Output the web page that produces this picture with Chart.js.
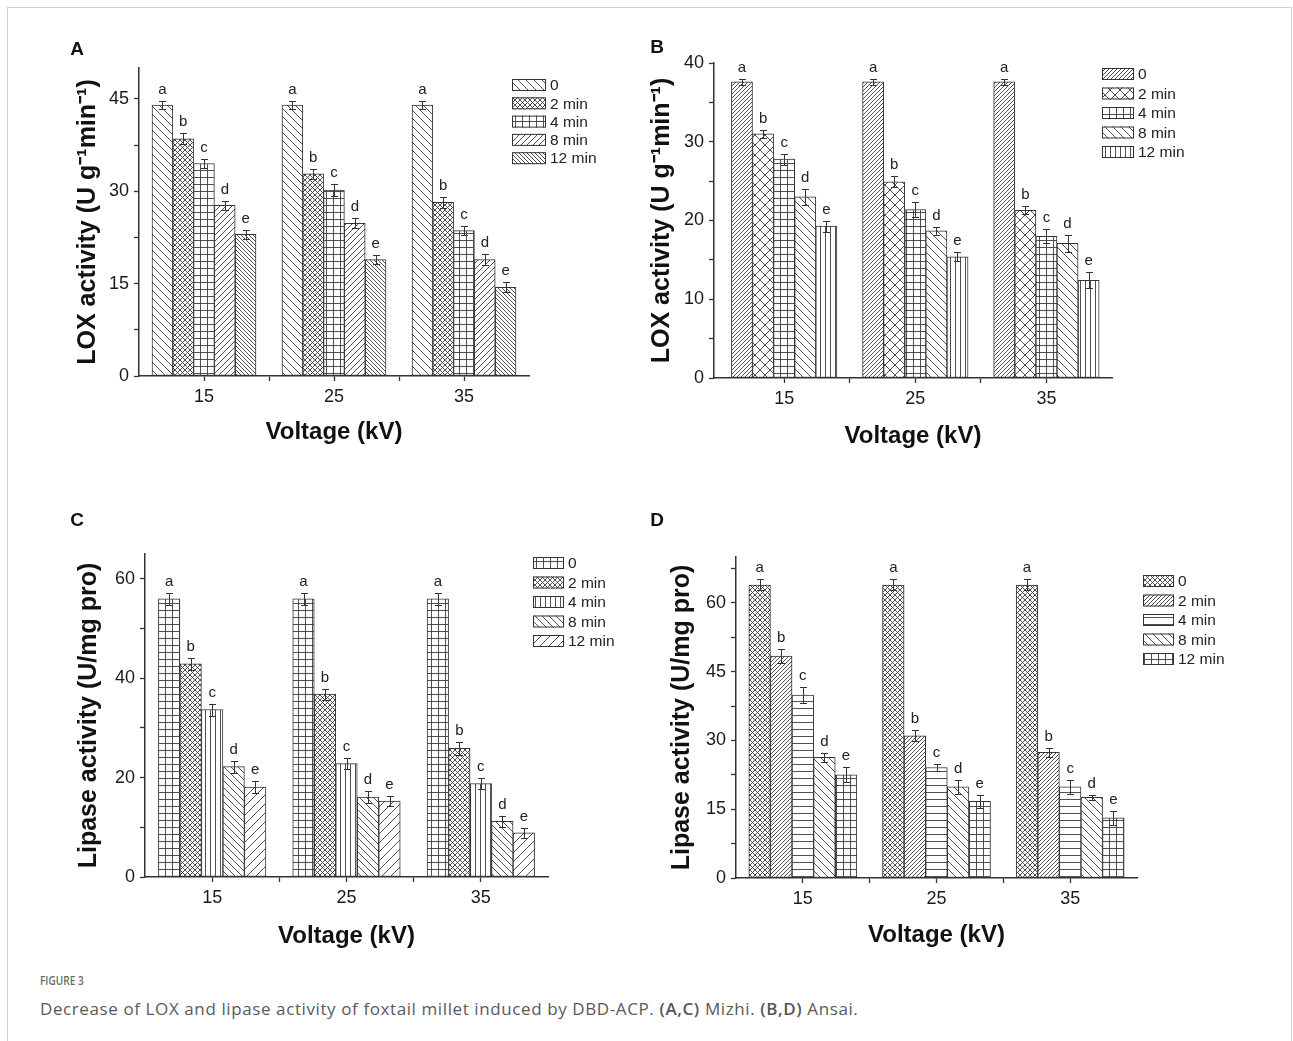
<!DOCTYPE html>
<html>
<head>
<meta charset="utf-8">
<script src="https://cdn.jsdelivr.net/npm/chart.js@4.4.0/dist/chart.umd.min.js"></script>
<style>
  body { margin: 0; background: #fff; width: 1293px; height: 1041px; overflow: hidden; position: relative; }
  .frame { position: absolute; left: 7px; top: 7px; width: 1283px; height: 1100px; border: 1.5px solid #cfcfcf; border-bottom: none; }
  canvas { position: absolute; }
  .figno { position: absolute; left: 40px; top: 972px; font: 600 12px "Open Sans", sans-serif; color: #6a6a6a; transform: scaleX(0.84); transform-origin: left center; }
  .caption { position: absolute; left: 40px; top: 997px; font: 17px "Open Sans", sans-serif; color: #5a5a5a; letter-spacing: 0.6px; }
  .caption b { font-weight: 600; color: #555; }
</style>
</head>
<body>
<div class="frame"></div>
<canvas id="chartA" width="570" height="420" style="left:60px;top:30px"></canvas>
<canvas id="chartB" width="580" height="425" style="left:640px;top:30px"></canvas>
<canvas id="chartC" width="580" height="450" style="left:60px;top:505px"></canvas>
<canvas id="chartD" width="605" height="450" style="left:640px;top:505px"></canvas>
<div class="figno">FIGURE 3</div>
<div class="caption">Decrease of LOX and lipase activity of foxtail millet induced by DBD-ACP. <b>(A,C)</b> Mizhi. <b>(B,D)</b> Ansai.</div>
<script>
// categories
const voltages = [15, 25, 35];
const times = ['0', '2 min', '4 min', '8 min', '12 min'];
const letters = ['a', 'b', 'c', 'd', 'e'];

// A: LOX activity, Mizhi (one row per treatment time, values at 15/25/35 kV)
const loxMizhiMean = [
  [44.0, 44.0, 44.0],
  [38.5, 32.8, 28.2],
  [34.5, 30.2, 23.6],
  [27.7, 24.8, 18.9],
  [23.0, 18.9, 14.4]
];
const loxMizhiErr = [
  [0.6, 0.6, 0.6],
  [0.9, 0.8, 0.9],
  [0.7, 0.9, 0.7],
  [0.7, 0.8, 0.9],
  [0.7, 0.7, 0.8]
];

// B: LOX activity, Ansai
const loxAnsaiMean = [
  [37.6, 37.6, 37.6],
  [31.0, 24.9, 21.3],
  [27.8, 21.4, 18.0],
  [23.0, 18.7, 17.1],
  [19.3, 15.4, 12.4]
];
const loxAnsaiErr = [
  [0.4, 0.4, 0.4],
  [0.5, 0.7, 0.5],
  [0.7, 1.0, 0.9],
  [1.0, 0.5, 1.1],
  [0.7, 0.6, 1.0]
];

// C: Lipase activity, Mizhi
const lipMizhiMean = [
  [56.0, 56.0, 56.0],
  [42.9, 36.8, 25.9],
  [33.7, 22.8, 18.8],
  [22.2, 16.1, 11.2],
  [18.1, 15.3, 8.9]
];
const lipMizhiErr = [
  [1.2, 1.2, 1.2],
  [1.2, 1.1, 1.3],
  [1.2, 1.1, 1.1],
  [1.2, 1.2, 1.1],
  [1.2, 1.1, 1.0]
];

// D: Lipase activity, Ansai
const lipAnsaiMean = [
  [63.9, 63.9, 63.9],
  [48.4, 31.0, 27.4],
  [39.9, 24.1, 19.9],
  [26.3, 19.9, 17.6],
  [22.5, 16.7, 13.1]
];
const lipAnsaiErr = [
  [1.2, 1.2, 1.2],
  [1.6, 1.2, 1.0],
  [1.8, 0.8, 1.5],
  [0.9, 1.5, 0.6],
  [1.6, 1.4, 1.6]
];

const FONT = '"Liberation Sans", Arial, sans-serif';
const INK = '#333';

// hatch fill made on a small tile canvas
function hatch(kind, s) {
  const c = document.createElement('canvas');
  c.width = s; c.height = s;
  const g = c.getContext('2d');
  g.fillStyle = '#fff';
  g.fillRect(0, 0, s, s);
  g.strokeStyle = '#3c3c3c';
  g.lineWidth = 0.9;
  g.beginPath();
  if (kind === 'fdiag' || kind === 'cross') {
    g.moveTo(-1, s + 1); g.lineTo(s + 1, -1);
    g.moveTo(-1, 1); g.lineTo(1, -1);
    g.moveTo(s - 1, s + 1); g.lineTo(s + 1, s - 1);
  }
  if (kind === 'bdiag' || kind === 'cross') {
    g.moveTo(-1, -1); g.lineTo(s + 1, s + 1);
    g.moveTo(s - 1, -1); g.lineTo(s + 1, 1);
    g.moveTo(-1, s - 1); g.lineTo(1, s + 1);
  }
  if (kind === 'grid' || kind === 'vert') { g.moveTo(0.5, 0); g.lineTo(0.5, s); }
  if (kind === 'grid' || kind === 'horiz') { g.moveTo(0, 0.5); g.lineTo(s, 0.5); }
  g.stroke();
  return g.createPattern(c, 'repeat');
}

// error bars, letters, legend and panel letter
const extras = {
  id: 'extras',
  afterDatasetsDraw(chart, args, opts) {
    const ctx = chart.ctx;
    const y = chart.scales.y;
    ctx.save();
    ctx.strokeStyle = INK;
    ctx.lineWidth = 1;
    chart.data.datasets.forEach((ds, i) => {
      chart.getDatasetMeta(i).data.forEach((bar, j) => {
        const v = ds.data[j].y, e = ds.errors[j];
        const top = Math.round(y.getPixelForValue(v + e)) + 0.5;
        const bot = Math.round(y.getPixelForValue(v - e)) + 0.5;
        const x = Math.round(bar.x) + 0.5;
        ctx.beginPath();
        ctx.moveTo(x, top); ctx.lineTo(x, bot);
        ctx.moveTo(x - 3.5, top); ctx.lineTo(x + 3.5, top);
        ctx.moveTo(x - 3.5, bot); ctx.lineTo(x + 3.5, bot);
        ctx.stroke();
        ctx.fillStyle = '#222';
        ctx.font = '15px ' + FONT;
        ctx.textAlign = 'center';
        ctx.textBaseline = 'alphabetic';
        ctx.fillText(letters[i], bar.x, top - 8);
      });
    });
    // legend
    const L = opts.legend;
    chart.data.datasets.forEach((ds, i) => {
      const cy = L.y + i * L.step;
      ctx.fillStyle = ds.backgroundColor;
      ctx.fillRect(L.x, cy - 6, L.w, 12);
      ctx.strokeStyle = INK;
      ctx.strokeRect(L.x + 0.5, cy - 5.5, L.w, 11);
      ctx.fillStyle = '#222';
      ctx.font = '15.5px ' + FONT;
      ctx.textAlign = 'left';
      ctx.textBaseline = 'middle';
      ctx.fillText(ds.label, L.x + L.w + 5, cy + 1);
    });
    // panel letter
    ctx.fillStyle = '#111';
    ctx.font = 'bold 19px ' + FONT;
    ctx.textAlign = 'center';
    ctx.textBaseline = 'middle';
    ctx.fillText(opts.tag.text, opts.tag.x, opts.tag.y);
    ctx.restore();
  }
};

function panel(id, means, errs, fills, geo) {
  const datasets = times.map((t, i) => ({
    label: t,
    data: means[i].map((v, j) => ({ x: voltages[j], y: v })),
    errors: errs[i],
    backgroundColor: hatch(fills[i][0], fills[i][1]),
    borderColor: INK,
    borderWidth: 1,
    borderSkipped: false,
    barThickness: geo.bar
  }));
  const tickFont = { family: FONT, size: 18 };
  const titleFont = { family: FONT, weight: 'bold' };
  new Chart(document.getElementById(id), {
    type: 'bar',
    data: { datasets },
    plugins: [extras],
    options: {
      responsive: false,
      animation: false,
      layout: { padding: { left: 0, top: geo.padTop, right: geo.padRight, bottom: 0 } },
      plugins: {
        legend: { display: false },
        tooltip: { enabled: false },
        extras: { legend: geo.legend, tag: geo.tag }
      },
      scales: {
        x: {
          type: 'linear',
          min: geo.xMin,
          max: 40,
          offset: false,
          afterFit: s => { s.height = geo.xHeight; },
          border: { display: true, color: INK, width: 1.5 },
          grid: {
            offset: false,
            drawOnChartArea: false,
            tickLength: 5,
            tickWidth: 1.3,
            tickColor: c => [15, 20, 25, 30, 35].includes(c.tick && c.tick.value) ? INK : 'rgba(0,0,0,0)'
          },
          ticks: {
            stepSize: 5,
            autoSkip: false,
            maxRotation: 0,
            padding: 5,
            color: '#1a1a1a',
            font: tickFont,
            callback: v => (v === 15 || v === 25 || v === 35) ? String(v) : ''
          },
          title: {
            display: true,
            text: 'Voltage (kV)',
            color: '#111',
            font: Object.assign({ size: 24 }, titleFont),
            padding: { top: 0, bottom: geo.xTitlePad }
          }
        },
        y: {
          min: 0,
          max: geo.yMax,
          afterFit: s => { s.width = geo.yWidth; },
          border: { display: true, color: INK, width: 1.5 },
          grid: { drawOnChartArea: false, tickLength: 5, tickWidth: 1.3, tickColor: INK },
          ticks: {
            stepSize: geo.yStep,
            includeBounds: false,
            autoSkip: false,
            padding: 5,
            color: '#1a1a1a',
            font: tickFont,
            callback: v => {
              const r = v / geo.yLabel;
              return Math.abs(r - Math.round(r)) < 1e-6 ? String(Math.round(v)) : '';
            }
          },
          title: {
            display: true,
            text: geo.yTitle,
            color: '#111',
            font: Object.assign({ size: 25 }, titleFont),
            padding: { top: geo.yTitlePad, bottom: 0 }
          }
        }
      }
    }
  });
}

panel('chartA', loxMizhiMean, loxMizhiErr,
  [['bdiag', 8], ['cross', 5], ['grid', 7], ['fdiag', 6], ['bdiag', 4]],
  { xMin: 10, yMax: 50, yStep: 7.5, yLabel: 15, bar: 20.8,
    padTop: 38, padRight: 101, yWidth: 79, xHeight: 74, xTitlePad: 3, yTitlePad: 13,
    yTitle: 'LOX activity (U g⁻¹min⁻¹)',
    legend: { x: 452, y: 55, step: 18.3, w: 33 },
    tag: { text: 'A', x: 17, y: 20 } });

panel('chartB', loxAnsaiMean, loxAnsaiErr,
  [['fdiag', 4], ['cross', 10], ['grid', 7], ['bdiag', 8], ['vert', 5]],
  { xMin: 9.65, yMax: 40, yStep: 5, yLabel: 10, bar: 21.1,
    padTop: 33, padRight: 108, yWidth: 74, xHeight: 77, xTitlePad: 4, yTitlePad: 7,
    yTitle: 'LOX activity (U g⁻¹min⁻¹)',
    legend: { x: 462, y: 44, step: 19.5, w: 31 },
    tag: { text: 'B', x: 17, y: 18 } });

panel('chartC', lipMizhiMean, lipMizhiErr,
  [['grid', 7], ['cross', 5], ['vert', 5], ['bdiag', 7], ['fdiag', 9]],
  { xMin: 10, yMax: 65, yStep: 10, yLabel: 20, bar: 21.5,
    padTop: 49, padRight: 92, yWidth: 85, xHeight: 78, xTitlePad: 4, yTitlePad: 14,
    yTitle: 'Lipase activity (U/mg pro)',
    legend: { x: 473, y: 58, step: 19.5, w: 30 },
    tag: { text: 'C', x: 17, y: 16 } });

panel('chartD', lipAnsaiMean, lipAnsaiErr,
  [['cross', 5], ['fdiag', 4], ['horiz', 7], ['bdiag', 8], ['grid', 7]],
  { xMin: 10, yMax: 70, yStep: 7.5, yLabel: 15, bar: 21.6,
    padTop: 52, padRight: 108, yWidth: 96, xHeight: 77, xTitlePad: 5, yTitlePad: 27,
    yTitle: 'Lipase activity (U/mg pro)',
    legend: { x: 503, y: 76, step: 19.5, w: 30 },
    tag: { text: 'D', x: 17, y: 16 } });
</script>
</body>
</html>
